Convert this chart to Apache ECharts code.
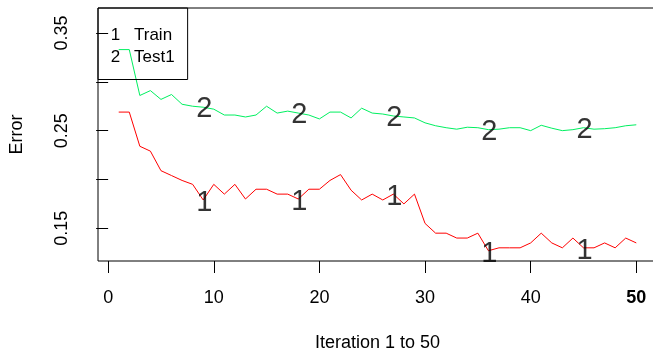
<!DOCTYPE html>
<html>
<head>
<meta charset="utf-8">
<script src="https://cdn.jsdelivr.net/npm/echarts@6/dist/echarts.min.js"></script>
<style>html,body{margin:0;padding:0;background:#fff}#c{width:653px;height:351px}</style>
</head>
<body>
<div id="c"></div>
<script>
var iterations = [];
for (var k = 1; k <= 50; k++) iterations.push(k);
var train = [0.269,0.269,0.234,0.229,0.209,0.204,0.199,0.195,0.179,0.195,
             0.185,0.195,0.180,0.190,0.190,0.185,0.185,0.180,0.190,0.190,
             0.199,0.205,0.189,0.179,0.185,0.179,0.185,0.175,0.185,0.155,
             0.145,0.145,0.140,0.140,0.145,0.127,0.130,0.130,0.130,0.135,
             0.145,0.135,0.130,0.140,0.130,0.130,0.135,0.130,0.140,0.135];
var test1 = [0.333,0.333,0.286,0.291,0.282,0.287,0.277,0.275,0.274,0.272,
             0.266,0.266,0.264,0.266,0.275,0.268,0.270,0.268,0.266,0.262,
             0.269,0.269,0.263,0.273,0.268,0.267,0.265,0.264,0.263,0.258,
             0.255,0.253,0.2515,0.2535,0.253,0.251,0.2515,0.253,0.253,0.250,
             0.2555,0.2525,0.250,0.251,0.253,0.2515,0.252,0.253,0.255,0.256];
var seriesNames = ['Train', 'Test1'];
var labelIter = [9, 18, 27, 36, 45];
var xTicks = [0, 10, 20, 30, 40, 50];
var yTicks = [0.15, 0.20, 0.25, 0.30, 0.35];
var yTickLabels = [0.15, 0.25, 0.35];

var FONT = 'Liberation Sans, Arial, Helvetica, sans-serif';
var FS = 18;
function pairs(arr) { return arr.map(function (v, i) { return [iterations[i], v]; }); }
function marks(arr) { return labelIter.map(function (it) { return [it, arr[it - 1]]; }); }

var chart = echarts.init(document.getElementById('c'), null, {renderer: 'canvas'});
chart.setOption({
  animation: false,
  backgroundColor: '#fff',
  grid: {left: 98, top: 8, width: 559, height: 253, show: true, borderColor: '#000', borderWidth: 1,
         backgroundColor: 'transparent', outerBoundsMode: 'none', containLabel: false},
  legend: {
    data: seriesNames, left: 98, top: 8, orient: 'vertical', icon: 'none', itemWidth: 0, itemHeight: 16,
    itemGap: 5.5, padding: [18.5, 13, 13.5, 2], borderColor: '#000', borderWidth: 1, selectedMode: false,
    backgroundColor: 'transparent',
    formatter: function (name) { return '{n|' + (seriesNames.indexOf(name) + 1) + '}{t|' + name + '}'; },
    textStyle: {fontFamily: FONT, fontSize: 17, color: '#000',
      rich: {n: {width: 21, align: 'center', fontSize: 17, fontFamily: FONT, color: '#000'},
             t: {padding: [0, 0, 0, 8], fontSize: 17, fontFamily: FONT, color: '#000'}}}
  },
  xAxis: {
    type: 'value', min: -0.96, max: 51.96,
    name: 'Iteration 1 to 50', nameLocation: 'middle', nameGap: 73,
    nameTextStyle: {fontFamily: FONT, fontSize: FS, color: '#000'},
    axisLine: {show: false}, splitLine: {show: false},
    axisTick: {show: true, length: 12, customValues: xTicks, lineStyle: {color: '#000', width: 1}},
    axisLabel: {customValues: xTicks, margin: 28, fontFamily: FONT, fontSize: FS, color: '#000',
      formatter: function (v) { return v === 50 ? '{b|50}' : String(v); },
      rich: {b: {fontWeight: 'bold', fontFamily: FONT, fontSize: FS, color: '#000'}}}
  },
  yAxis: {
    type: 'value', min: 0.1165, max: 0.3756,
    name: 'Error', nameLocation: 'middle', nameGap: 72,
    nameTextStyle: {fontFamily: FONT, fontSize: FS, color: '#000'},
    axisLine: {show: false}, splitLine: {show: false},
    axisTick: {show: true, length: 12, customValues: yTicks, lineStyle: {color: '#000', width: 1}},
    axisLabel: {customValues: yTickLabels, rotate: 90, margin: 27, fontFamily: FONT, fontSize: FS, color: '#000',
      formatter: function (v) { return v.toFixed(2); }}
  },
  series: [
    {name: 'Train', type: 'line', data: pairs(train), symbol: 'none', lineStyle: {color: '#ff0000', width: 1},
     itemStyle: {color: '#ff0000'}, silent: true},
    {name: 'Test1', type: 'line', data: pairs(test1), symbol: 'none', lineStyle: {color: '#00f060', width: 1},
     itemStyle: {color: '#00f060'}, silent: true},
    {name: 'm1', type: 'scatter', data: marks(train), symbolSize: 0, silent: true, z: 5,
     label: {show: true, position: 'inside', formatter: '1', fontFamily: FONT, fontSize: 29, color: '#000', offset: [1, 3]}},
    {name: 'm2', type: 'scatter', data: marks(test1), symbolSize: 0, silent: true, z: 5,
     label: {show: true, position: 'inside', formatter: '2', fontFamily: FONT, fontSize: 29, color: '#000', offset: [1, 2]}}
  ]
});
</script>
</body>
</html>
